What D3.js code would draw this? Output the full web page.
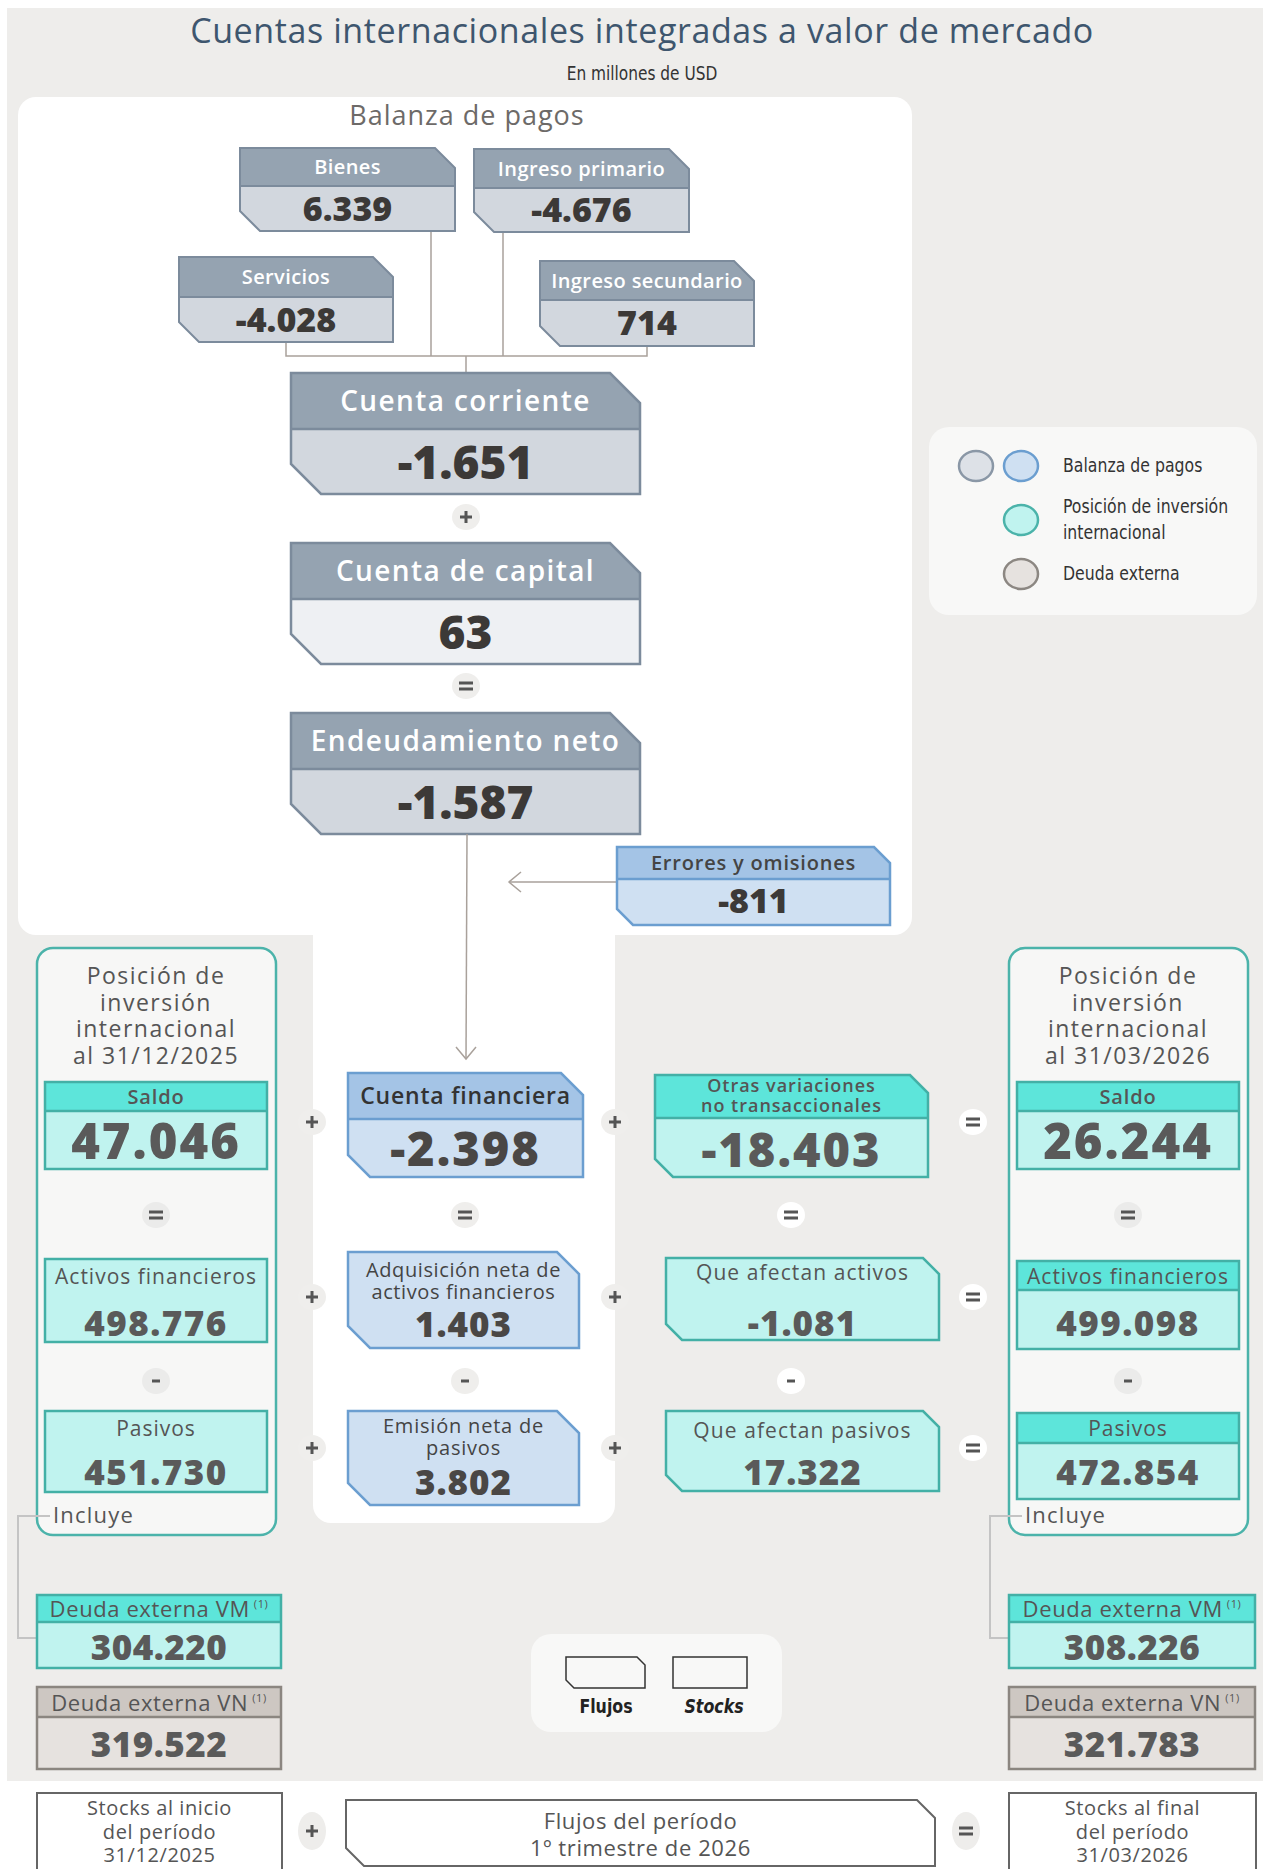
<!DOCTYPE html>
<html>
<head>
<meta charset="utf-8">
<script src="https://cdn.jsdelivr.net/npm/d3@7"></script>
<style>
  body { margin: 0; background: #fff; }
  svg text { font-family: "Open Sans", sans-serif; }
  svg text.cond { font-family: "Liberation Sans Narrow", "DejaVu Sans Condensed", "Roboto", sans-serif; }
</style>
</head>
<body>
<svg class="board" width="1269" height="1869"></svg>
<script>
// ---- data (millones de USD) ----
const bopItems = ["Bienes", "Servicios", "Ingreso primario", "Ingreso secundario"];
const bopValues = [6339, -4028, -4676, 714];
const accountItems = ["Cuenta corriente", "Cuenta de capital", "Endeudamiento neto"];
const accountValues = [-1651, 63, -1587];
const errorsItem = "Errores y omisiones";
const errorsValue = -811;
const piiDates = ["al 31/12/2025", "al 31/03/2026"];
const piiItems = ["Saldo", "Activos financieros", "Pasivos"];
const piiStart = [47046, 498776, 451730];
const piiEnd = [26244, 499098, 472854];
const finItems = [["Cuenta financiera"], ["Adquisición neta de", "activos financieros"], ["Emisión neta de", "pasivos"]];
const finValues = [-2398, 1403, 3802];
const otherItems = [["Otras variaciones", "no transaccionales"], ["Que afectan activos"], ["Que afectan pasivos"]];
const otherValues = [-18403, -1081, 17322];
const debtItems = ["Deuda externa VM", "Deuda externa VN"];
const debtStart = [304220, 319522];
const debtEnd = [308226, 321783];
const legendItems = [["Balanza de pagos"], ["Posición de inversión", "internacional"], ["Deuda externa"]];
const footerItems = [["Stocks al inicio", "del período", "31/12/2025"], ["Flujos del período", "1º trimestre de 2026"], ["Stocks al final", "del período", "31/03/2026"]];

const locale = d3.formatLocale({decimal: ",", thousands: ".", grouping: [3], currency: ["$", ""], minus: "-"});
const fmt = locale.format(",d");

const pal = {
  bop:   {head: "#95a3b1", body: "#d2d7de", stroke: "#7c8b9c"},
  cap:   {head: "#95a3b1", body: "#eef0f3", stroke: "#7c8b9c"},
  blue:  {head: "#a4c4e6", body: "#cfe0f2", stroke: "#6b9ed0"},
  teal:  {head: "#5de5da", body: "#c0f3ef", stroke: "#43b0a6"},
  debt:  {head: "#cdc7c2", body: "#e6e2df", stroke: "#8b8680"}
};

const svg = d3.select("svg.board");

// narrow label: condensed look through a horizontal squeeze
function narrow(x, y, str, size, opts) {
  const o = opts || {};
  return svg.append("text").attr("class", "cond")
    .attr("transform", `translate(${x},${y}) scale(${o.sx || 0.9},1)`)
    .attr("text-anchor", o.anchor || "start").attr("font-size", size)
    .attr("font-weight", o.weight || 400).attr("font-style", o.style || "normal")
    .attr("fill", o.fill || "#333").text(str);
}

// backgrounds
svg.append("rect").attr("x", 7).attr("y", 8).attr("width", 1256).attr("height", 1773).attr("fill", "#eeedeb");
svg.append("rect").attr("x", 313).attr("y", 900).attr("width", 302).attr("height", 623).attr("rx", 18).attr("fill", "#fff");
svg.append("rect").attr("x", 18).attr("y", 97).attr("width", 894).attr("height", 838).attr("rx", 18).attr("fill", "#fff");

svg.append("text").attr("x", 642).attr("y", 43).attr("text-anchor", "middle").attr("letter-spacing", 0.6)
  .attr("font-size", 34).attr("fill", "#3e566e").text("Cuentas internacionales integradas a valor de mercado");
narrow(642, 80, "En millones de USD", 19, {anchor: "middle"});
svg.append("text").attr("x", 467).attr("y", 125).attr("text-anchor", "middle").attr("letter-spacing", 1)
  .attr("font-size", 27).attr("fill", "#6d6a68").text("Balanza de pagos");

function shapePath(x, y, w, h, c) {
  const p = d3.path();
  p.moveTo(x, y); p.lineTo(x + w - c, y); p.lineTo(x + w, y + c);
  p.lineTo(x + w, y + h); p.lineTo(x + c, y + h); p.lineTo(x, y + h - c);
  p.closePath();
  return p.toString();
}
function headPath(x, y, w, hd, c) {
  const p = d3.path();
  p.moveTo(x, y); p.lineTo(x + w - c, y); p.lineTo(x + w, y + c);
  p.lineTo(x + w, y + hd); p.lineTo(x, y + hd); p.closePath();
  return p.toString();
}

function drawBox(b) {
  const g = svg.append("g").attr("class", "box");
  const c = b.cut || 0;
  g.append("path").attr("d", shapePath(b.x, b.y, b.w, b.h, c)).attr("fill", b.col.body);
  if (b.head) {
    g.append("path").attr("d", headPath(b.x, b.y, b.w, b.head, c)).attr("fill", b.col.head);
    g.append("line").attr("x1", b.x).attr("x2", b.x + b.w).attr("y1", b.y + b.head).attr("y2", b.y + b.head)
      .attr("stroke", b.col.stroke).attr("stroke-width", b.sw || 2.5);
  }
  g.append("path").attr("d", shapePath(b.x, b.y, b.w, b.h, c)).attr("fill", "none")
    .attr("stroke", b.col.stroke).attr("stroke-width", b.sw || 2.5);
  const cx = b.x + b.w / 2;
  const lh = b.lh || 20;
  const lines = Array.isArray(b.title) ? b.title : [b.title];
  const t = g.append("text").attr("text-anchor", "middle").attr("font-size", b.ts)
    .attr("letter-spacing", b.ls === undefined ? 0.8 : b.ls)
    .attr("font-weight", b.tw || 400).attr("fill", b.tc || "#555");
  lines.forEach((l, i) => {
    t.append("tspan").attr("x", cx).attr("y", b.ty + i * lh).text(l);
  });
  if (b.sup) {
    t.append("tspan").attr("font-size", 11).attr("dx", 4).attr("dy", -9).text("(1)");
  }
  g.append("text").attr("x", cx).attr("y", b.vy).attr("text-anchor", "middle")
    .attr("font-size", b.vs).attr("font-weight", 800).attr("fill", b.vc || "#5a5a5a")
    .attr("letter-spacing", b.vls || 0)
    .text(fmt(b.value));
}

function op(x, y, sym, fill, ry) {
  svg.append("ellipse").attr("cx", x).attr("cy", y).attr("rx", 14).attr("ry", ry || 13).attr("fill", fill);
  if (sym === "+") {
    svg.append("path").attr("d", `M${x - 6},${y}H${x + 6}M${x},${y - 6}V${y + 6}`).attr("stroke", "#555").attr("stroke-width", 3);
  } else if (sym === "=") {
    svg.append("path").attr("d", `M${x - 7},${y - 3}H${x + 7}M${x - 7},${y + 3}H${x + 7}`).attr("stroke", "#555").attr("stroke-width", 3);
  } else {
    svg.append("path").attr("d", `M${x - 4},${y}H${x + 4}`).attr("stroke", "#555").attr("stroke-width", 3);
  }
}

const lineCol = "#a9a19b";
function poly(pts, col, sw) {
  svg.append("path").attr("d", d3.line()(pts)).attr("fill", "none").attr("stroke", col).attr("stroke-width", sw || 1.5);
}

// ---- Balanza de pagos: components ----
poly([[286, 342], [286, 356], [647, 356], [647, 346]], lineCol);
poly([[431, 231], [431, 356]], lineCol);
poly([[503, 232], [503, 356]], lineCol);
poly([[466, 356], [466, 373]], lineCol);

const bopLayout = [
  {x: 240, y: 148, w: 215, h: 83, head: 38},
  {x: 179, y: 257, w: 214, h: 85, head: 40},
  {x: 474, y: 149, w: 215, h: 83, head: 39},
  {x: 540, y: 261, w: 214, h: 85, head: 39}
];
bopItems.forEach((name, i) => {
  const L = bopLayout[i];
  drawBox(Object.assign({}, L, {cut: 20, col: pal.bop, sw: 2, title: name, ts: 20, tw: 600, tc: "#fff", ls: 0.4,
    ty: L.y + L.head / 2 + 7, value: bopValues[i], vs: 34, vc: "#3c3937", vy: L.y + L.head + (L.h - L.head) / 2 + 12}));
});

// ---- cuentas agregadas ----
const accY = d3.scalePoint().domain(accountItems).range([373, 713]);
accountItems.forEach((name, i) => {
  const y = accY(name);
  drawBox({x: 291, y: y, w: 349, h: 121, head: 56, cut: 30, col: i === 1 ? pal.cap : pal.bop, sw: 2.5, ls: 1.4,
    title: name, ts: 28, tw: 600, tc: "#fff", ty: y + 38, value: accountValues[i], vs: 46, vc: "#3c3937", vy: y + 106});
});
op(466, 517, "+", "#efeeec");
op(466, 686, "=", "#efeeec");

// flow to cuenta financiera
poly([[467, 834], [466, 1059]], lineCol);
poly([[456, 1047], [466, 1059], [476, 1047]], lineCol);

// errores y omisiones
poly([[617, 882], [509, 882]], lineCol);
poly([[521, 872], [509, 882], [521, 892]], lineCol);
drawBox({x: 617, y: 847, w: 273, h: 78, head: 32, cut: 16, col: pal.blue, sw: 2.5, title: errorsItem, ts: 20, tw: 600,
  tc: "#444", ty: 870, value: errorsValue, vs: 34, vc: "#3c3937", vy: 913});

// ---- legend ----
svg.append("rect").attr("x", 929).attr("y", 427).attr("width", 328).attr("height", 188).attr("rx", 20).attr("fill", "#f8f8f7");
const legendMarks = [
  [{cx: 976, cy: 466, f: "#dde1e7", s: "#8a97a6"}, {cx: 1021, cy: 466, f: pal.blue.body, s: pal.blue.stroke}],
  [{cx: 1021, cy: 520, f: pal.teal.body, s: "#4bb3aa"}],
  [{cx: 1021, cy: 574, f: pal.debt.body, s: "#8c8782"}]
];
const legendY = [472, 513, 580];
legendItems.forEach((lines, i) => {
  legendMarks[i].forEach(m => {
    svg.append("ellipse").attr("cx", m.cx).attr("cy", m.cy).attr("rx", 17).attr("ry", 15)
      .attr("fill", m.f).attr("stroke", m.s).attr("stroke-width", 2.5);
  });
  lines.forEach((l, j) => narrow(1063, legendY[i] + j * 26, l, 19, {sx: 0.92}));
});

// ---- posiciones de inversión internacional ----
function piiPanel(x, date, values, right) {
  svg.append("rect").attr("x", x).attr("y", 948).attr("width", 239).attr("height", 587).attr("rx", 16)
    .attr("fill", "#f7f7f6").attr("stroke", "#4bb3aa").attr("stroke-width", 2.5);
  const t = svg.append("text").attr("text-anchor", "middle").attr("font-size", 23).attr("letter-spacing", 1.5).attr("fill", "#555");
  ["Posición de", "inversión", "internacional", date].forEach((l, j) =>
    t.append("tspan").attr("x", x + 119).attr("y", 984 + j * 26.5).text(l));
  const bx = x + 8, bw = 222;
  drawBox({x: bx, y: 1082, w: bw, h: 87, head: 29, col: pal.teal, title: piiItems[0], ts: 20, tw: 600, ty: 1104,
    value: values[0], vs: 49, vls: 2, vy: 1159});
  drawBox({x: bx, y: right ? 1261 : 1259, w: bw, h: right ? 88 : 83, head: right ? 29 : 0, col: pal.teal,
    title: piiItems[1], ts: 21, ls: 1, ty: 1284, value: values[1], vs: 35, vls: 1.5, vy: 1336});
  drawBox({x: bx, y: right ? 1413 : 1411, w: bw, h: right ? 86 : 81, head: right ? 30 : 0, col: pal.teal,
    title: piiItems[2], ts: 21, ls: 1, ty: 1436, value: values[2], vs: 35, vls: 1.5, vy: 1485});
  op(x + 119, 1215, "=", "#ebebea");
  op(x + 119, 1381, "-", "#ebebea");
  svg.append("text").attr("x", x + 16).attr("y", 1523).attr("font-size", 22).attr("letter-spacing", 1.2)
    .attr("fill", "#555").text("Incluye");
  const lx = x - 19;
  poly([[x + 13, 1516], [lx, 1516], [lx, 1638], [x, 1638]], "#c4c4c4", 2);
}
piiPanel(37, piiDates[0], piiStart, false);
piiPanel(1009, piiDates[1], piiEnd, true);

// ---- cuenta financiera ----
const rowY = [1073, 1252, 1411];
const finLayout = [
  {h: 104, head: 46, ty: 1104, vy: 1166, vs: 47, vls: 2, tw: 600, tc: "#333", ts: 23, ls: 0.8},
  {h: 96, head: 0, ty: 1277, vy: 1337, vs: 35, vls: 1, tw: 400, tc: "#444", ts: 20, ls: 0.6},
  {h: 94, head: 0, ty: 1433, vy: 1495, vs: 35, vls: 1, tw: 400, tc: "#444", ts: 20, ls: 0.8}
];
finItems.forEach((lines, i) => {
  const L = finLayout[i];
  drawBox(Object.assign({x: 348, y: rowY[i], w: i === 0 ? 235 : 231, cut: 22, col: pal.blue, title: lines, lh: 22,
    value: finValues[i], vc: "#4a4745"}, L));
});
op(465, 1215, "=", "#efeeec");
op(465, 1381, "-", "#efeeec");

// ---- otras variaciones ----
const otherLayout = [
  {x: 655, y: 1075, w: 273, h: 102, head: 43, cut: 18, ty: 1092, lh: 20, vy: 1167, vs: 47, vls: 2, tw: 600, ts: 18, ls: 1},
  {x: 666, y: 1258, w: 273, h: 82, head: 0, cut: 16, ty: 1280, vy: 1336, vs: 35, vls: 1, tw: 400, ts: 21, ls: 1.1},
  {x: 666, y: 1411, w: 273, h: 80, head: 0, cut: 16, ty: 1438, vy: 1485, vs: 35, vls: 1, tw: 400, ts: 21, ls: 1.1}
];
otherItems.forEach((lines, i) => {
  drawBox(Object.assign({col: pal.teal, title: lines, value: otherValues[i]}, otherLayout[i]));
});
op(791, 1215, "=", "#fff");
op(791, 1381, "-", "#fff");

// operators between columns
[1122, 1297, 1448].forEach(y => {
  op(312, y, "+", "#efeeec");
  op(615, y, "+", "#efeeec");
  op(973, y, "=", "#fff");
});

// ---- deuda externa ----
function debtBoxes(x, w, values) {
  drawBox({x: x, y: 1595, w: w, h: 73, head: 27, col: pal.teal, title: debtItems[0], sup: true, ts: 22, ls: 0.6,
    ty: 1617, value: values[0], vs: 35, vls: 0.5, vy: 1660});
  drawBox({x: x, y: 1687, w: w, h: 82, head: 30, col: pal.debt, title: debtItems[1], sup: true, ts: 22, ls: 0.6,
    ty: 1711, value: values[1], vs: 35, vls: 0.5, vy: 1757});
}
debtBoxes(37, 244, debtStart);
debtBoxes(1009, 246, debtEnd);

// ---- flujos / stocks legend ----
svg.append("rect").attr("x", 531).attr("y", 1634).attr("width", 251).attr("height", 98).attr("rx", 20).attr("fill", "#f8f8f7");
svg.append("path").attr("d", shapePath(566, 1657, 79, 31, 8)).attr("fill", "none").attr("stroke", "#333").attr("stroke-width", 1.5);
svg.append("rect").attr("x", 673).attr("y", 1657).attr("width", 74).attr("height", 31).attr("fill", "none").attr("stroke", "#333").attr("stroke-width", 1.5);
narrow(606, 1713, "Flujos", 20, {anchor: "middle", weight: 700, fill: "#222", sx: 0.88});
narrow(714, 1713, "Stocks", 20, {anchor: "middle", weight: 700, style: "italic", fill: "#222", sx: 0.88});

// ---- footer ----
const footX = [[37, 245, 0], [346, 589, 18], [1009, 247, 0]];
footerItems.forEach((lines, i) => {
  const [x, w, c] = footX[i];
  const y = i === 1 ? 1800 : 1793;
  const h = i === 1 ? 66 : 90;
  svg.append("path").attr("d", shapePath(x, y, w, h, c)).attr("fill", "#fff").attr("stroke", "#666").attr("stroke-width", 2);
  const t = svg.append("text").attr("text-anchor", "middle").attr("font-size", i === 1 ? 22 : 20)
    .attr("letter-spacing", 0.6).attr("fill", "#555");
  const y0 = i === 1 ? 1829 : 1815;
  lines.forEach((l, j) => t.append("tspan").attr("x", x + w / 2).attr("y", y0 + j * (i === 1 ? 27 : 23.5)).text(l));
});
op(312, 1831, "+", "#eeedeb", 19);
op(966, 1831, "=", "#eeedeb", 19);
</script>
</body>
</html>
